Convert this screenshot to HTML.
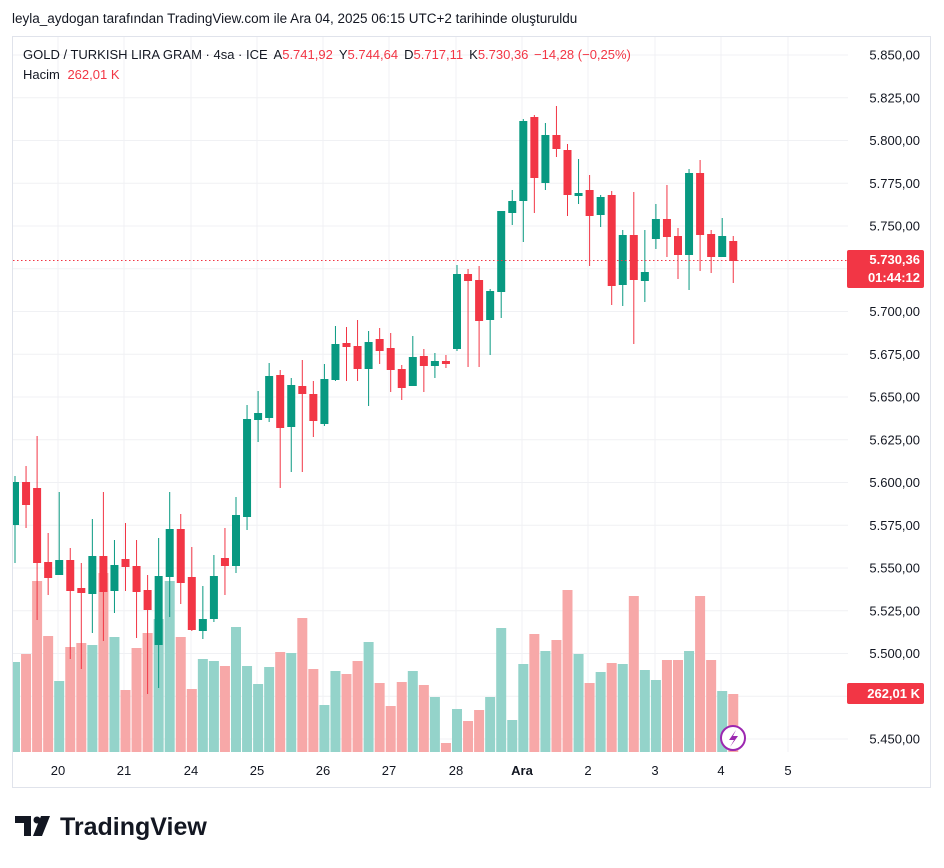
<!DOCTYPE html>
<html><head><meta charset="utf-8"><style>
body{margin:0;background:#fff;width:944px;height:863px;overflow:hidden;font-family:"Liberation Sans",sans-serif;}
</style></head><body>
<svg id="s" width="944" height="863" xmlns="http://www.w3.org/2000/svg" font-family="Liberation Sans, sans-serif"></svg>
<script>
const D=[
[476,563,482,525,1,662],[466,528,482,505,0,654],[436,620,488,563,0,581],[533,595,562,578,0,636],[492,575,560,575,1,681],
[548,659,560,591,0,647],[563,669,588,593,0,643],[519,633,556,594,1,645],[492,641,556,592,0,573],[540,613,565,591,1,637],
[523,591,559,567,0,690],[540,638,566,592,0,648],[575,694,590,610,0,633],[538,688,576,645,1,619],[492,617,529,577,1,581],
[514,604,529,583,0,637],[547,631,577,630,0,689],[586,639,619,631,1,659],[555,622,576,619,1,661],[528,595,558,566,0,666],
[497,573,515,566,1,627],[405,530,419,517,1,666],[391,442,413,420,1,684],[363,422,376,418,1,667],[370,488,375,428,0,652],
[378,472,385,427,1,653],[360,472,386,394,0,618],[381,437,394,421,0,669],[364,426,379,424,1,705],[326,381,344,380,1,671],
[327,381,343,347,0,674],[320,381,346,369,0,661],[331,406,342,369,1,642],[328,364,339,351,0,683],[333,392,348,370,0,706],
[365,400,369,388,0,682],[336,386,357,386,1,671],[349,392,356,366,0,685],[353,378,361,366,1,697],[355,368,361,364,0,743],
[265,351,274,349,1,709],[269,367,274,281,0,721],[266,367,280,321,0,710],[289,355,291,320,1,697],[211,318,211,292,1,628],
[190,225,201,213,1,720],[119,242,121,201,1,664],[115,213,117,178,0,634],[123,190,135,183,1,651],[106,157,135,149,0,640],
[144,216,150,195,0,590],[159,204,193,196,1,654],[175,266,190,216,0,683],[195,227,197,215,1,672],[191,305,195,286,0,663],
[230,306,235,285,1,664],[192,344,235,280,0,596],[230,302,272,281,1,670],[204,249,219,239,1,680],[185,257,219,237,0,660],
[228,279,236,255,0,660],[169,290,173,255,1,651],[160,271,173,235,0,596],[230,273,234,257,0,660],[218,257,236,257,1,691],
[236,283,241,261,0,694]];
let h='<defs><clipPath id="c"><rect x="13" y="37" width="835" height="716"/></clipPath></defs>';
h+='<rect x="12.5" y="36.5" width="918" height="751" fill="none" stroke="#e0e3eb"/>';
const prices=['5.850,00','5.825,00','5.800,00','5.775,00','5.750,00','5.725,00','5.700,00','5.675,00','5.650,00','5.625,00','5.600,00','5.575,00','5.550,00','5.525,00','5.500,00','5.475,00','5.450,00'];
prices.forEach((p,k)=>{const y=55+42.75*k;h+=`<line x1="13" x2="848" y1="${y}" y2="${y}" stroke="#f0f1f4"/>`;
if(p!=='5.725,00')h+=`<text x="920" y="${y+4.5}" font-size="13" fill="#131722" text-anchor="end">${p}</text>`;});
const days=[['20',58],['21',124],['24',191],['25',257],['26',323],['27',389],['28',456],['Ara',522],['2',588],['3',655],['4',721],['5',788]];
days.forEach(([t,x])=>{h+=`<line x1="${x}" x2="${x}" y1="37" y2="752" stroke="#f0f1f4"/>`;
h+=`<text x="${x}" y="775" font-size="13" fill="#131722" text-anchor="middle" ${t==='Ara'?'font-weight="bold"':''}>${t}</text>`;});
h+='<g clip-path="url(#c)">';
D.forEach((c,i)=>{const x=15+11.05*i;const col=c[4]?'#94d3ca':'#f7a8a8';
h+=`<rect x="${x-5}" y="${c[5]}" width="10" height="${752-c[5]}" fill="${col}"/>`;});
D.forEach((c,i)=>{const x=15+11.05*i;const col=c[4]?'#089981':'#f23645';
h+=`<line x1="${x}" x2="${x}" y1="${c[0]}" y2="${c[1]}" stroke="${col}" stroke-width="1"/>`;
h+=`<rect x="${x-4}" y="${c[2]}" width="8" height="${Math.max(2,c[3]-c[2])}" fill="${col}"/>`;});
h+='</g>';
h+='<line x1="13" x2="848" y1="260.5" y2="260.5" stroke="#f23645" stroke-dasharray="1.5,2.5"/>';
h+='<rect x="847" y="250" width="77" height="38" rx="2" fill="#f23645"/>';
h+='<text x="920" y="264" font-size="13" fill="#fff" font-weight="bold" text-anchor="end">5.730,36</text>';
h+='<text x="920" y="282" font-size="13" fill="#fff" font-weight="bold" text-anchor="end">01:44:12</text>';
h+='<rect x="847" y="683" width="77" height="21" rx="2" fill="#f23645"/>';
h+='<text x="920" y="698" font-size="13" fill="#fff" font-weight="bold" text-anchor="end">262,01 K</text>';
h+='<circle cx="733" cy="738" r="12" fill="#fff" stroke="#9c27b0" stroke-width="2"/><path d="M736 730 L729 740 L734 740 L730 747 L738 736 L733 736 Z" fill="#9c27b0"/>';
h+='<text x="12" y="23" font-size="13.5" fill="#131722">leyla_aydogan tarafından TradingView.com ile Ara 04, 2025 06:15 UTC+2 tarihinde oluşturuldu</text>';
h+='<text x="23" y="59" font-size="13" fill="#131722">GOLD / TURKISH LIRA GRAM · 4sa · ICE <tspan dx="3">A</tspan><tspan fill="#f23645">5.741,92</tspan><tspan dx="6">Y</tspan><tspan fill="#f23645">5.744,64</tspan><tspan dx="6">D</tspan><tspan fill="#f23645">5.717,11</tspan><tspan dx="6">K</tspan><tspan fill="#f23645">5.730,36 <tspan dx="2">−14,28 (−0,25%)</tspan></tspan></text>';
h+='<text x="23" y="79" font-size="13" fill="#131722">Hacim <tspan dx="4" fill="#f23645">262,01 K</tspan></text>';
h+='<path d="M15 816 H31 V836 H24 V823 H15 Z" fill="#131722"/><circle cx="37" cy="820" r="3.5" fill="#131722"/><path d="M41 816 H50 L42 836 H33 Z" fill="#131722"/>';
h+='<text x="60" y="835" font-size="25" font-weight="bold" fill="#131722">TradingView</text>';
document.getElementById('s').innerHTML=h;
</script>
</body></html>
